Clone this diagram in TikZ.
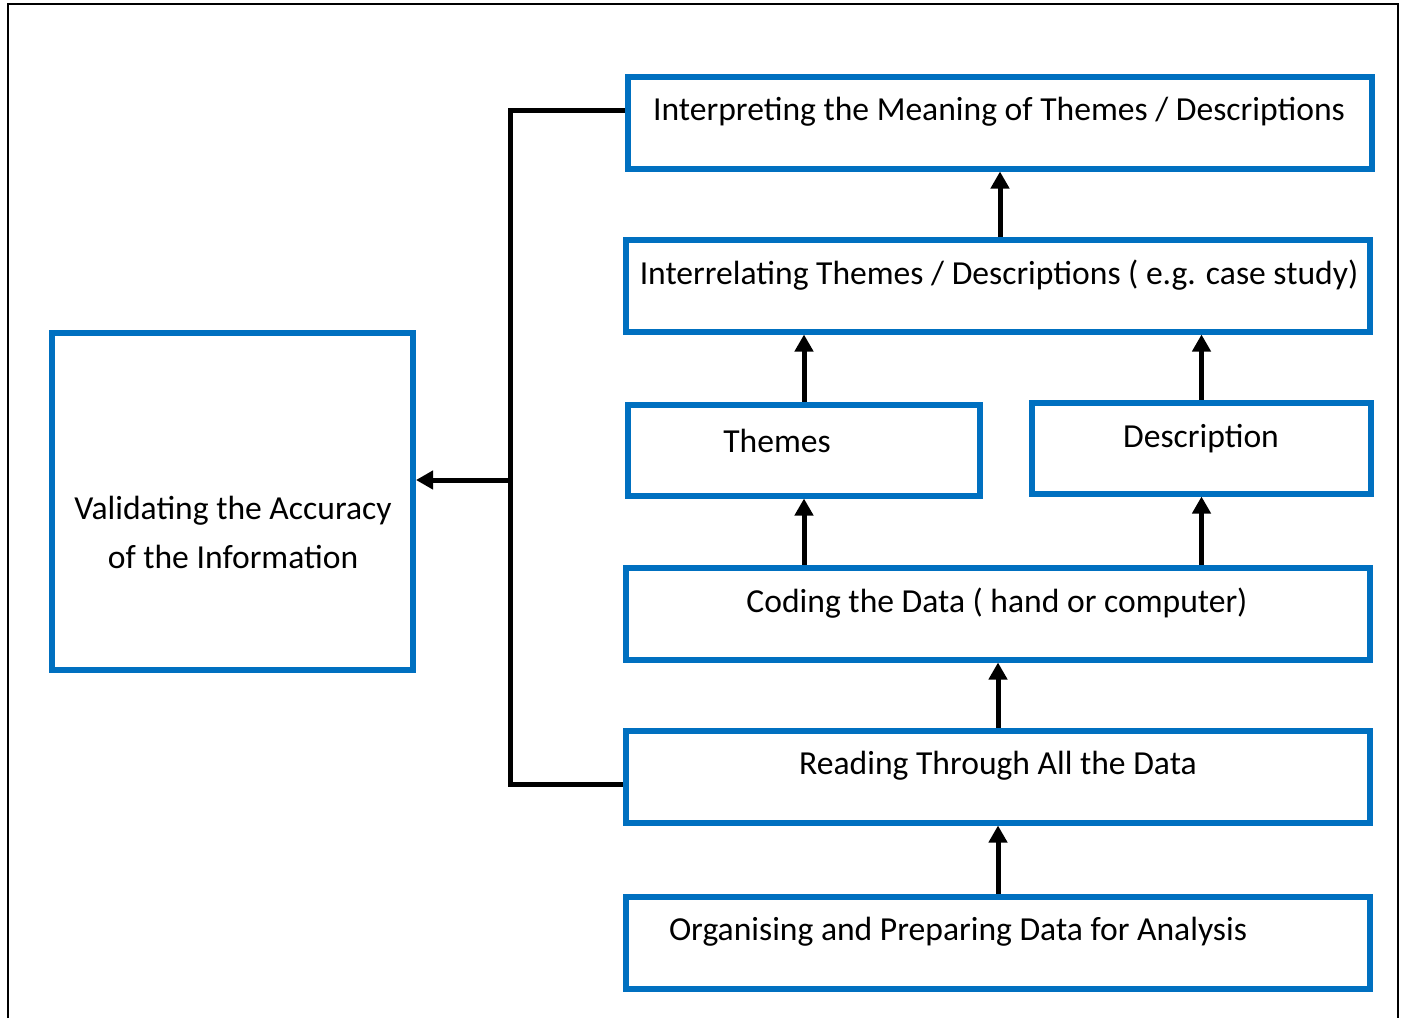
\documentclass[tikz,border=0pt]{standalone}
\usepackage{fontspec}
\setmainfont{Carlito}
\usetikzlibrary{arrows.meta}
\definecolor{boxblue}{HTML}{0070C0}
\tikzset{
  box/.style={draw=boxblue, line width=6pt, rectangle, inner sep=0pt},
  lbl/.style={font=\fontsize{33.6}{49}\selectfont, text=black, inner sep=0pt, align=center},
  conn/.style={line width=5pt, black},
  arr/.style={conn, -{Triangle[length=17pt,width=18pt]}},
}
\begin{document}
\begin{tikzpicture}[x=1pt,y=-1pt]
\useasboundingbox (0,0) rectangle (1403,1018);
\draw[line width=2.5pt, black] (8,1018) -- (8,4) -- (1398,4) -- (1398,1018);
% boxes
\node[box, minimum width=744pt, minimum height=92pt] (interp) at (1000,122.5) {};
\node[box, minimum width=744pt, minimum height=92pt] (interrel) at (998,285.5) {};
\node[box, minimum width=352pt, minimum height=91pt] (themes) at (804,450) {};
\node[box, minimum width=339pt, minimum height=91pt] (desc) at (1201.5,448) {};
\node[box, minimum width=744pt, minimum height=92pt] (coding) at (998,613.5) {};
\node[box, minimum width=744pt, minimum height=92pt] (reading) at (998,776.5) {};
\node[box, minimum width=744pt, minimum height=92pt] (organ) at (998,942.5) {};
\node[box, minimum width=361pt, minimum height=337pt] (valid) at (232.5,501.5) {};
% labels
\node[lbl] (t1) at (999,112) {Interpreting the Meaning of Themes / Descriptions};
\node[lbl] (t2) at (999,275) {Interrelating Themes / Descriptions ( e.g. case study)};
\node[lbl] (t3) at (777,441) {Themes};
\node[lbl] (t4) at (1201,439) {Description};
\node[lbl] (t5) at (997,603) {Coding the Data ( hand or computer)};
\node[lbl] (t6) at (998,766) {Reading Through All the Data};
\node[lbl] (t7) at (958,932) {Organising and Preparing Data for Analysis};
\node[lbl] (t8) at (233,532) {Validating the Accuracy\\of the Information};
% connectors
\coordinate (jt) at (510,110);
\coordinate (jb) at (510,784);
\coordinate (jm) at (510,480);
\draw[conn] (interp.west |- jt) -- (jt) -- (jb) -- (reading.west |- jb);
\draw[arr] (jm) -- (valid.east |- jm);
\draw[arr] (interrel.north -| interp.south) -- (interp.south);
\draw[arr] (themes.north) -- (themes.north |- interrel.south);
\draw[arr] (desc.north) -- (desc.north |- interrel.south);
\draw[arr] (coding.north -| themes.south) -- (themes.south);
\draw[arr] (coding.north -| desc.south) -- (desc.south);
\draw[arr] (reading.north) -- (coding.south);
\draw[arr] (organ.north) -- (reading.south);
\end{tikzpicture}
\end{document}
